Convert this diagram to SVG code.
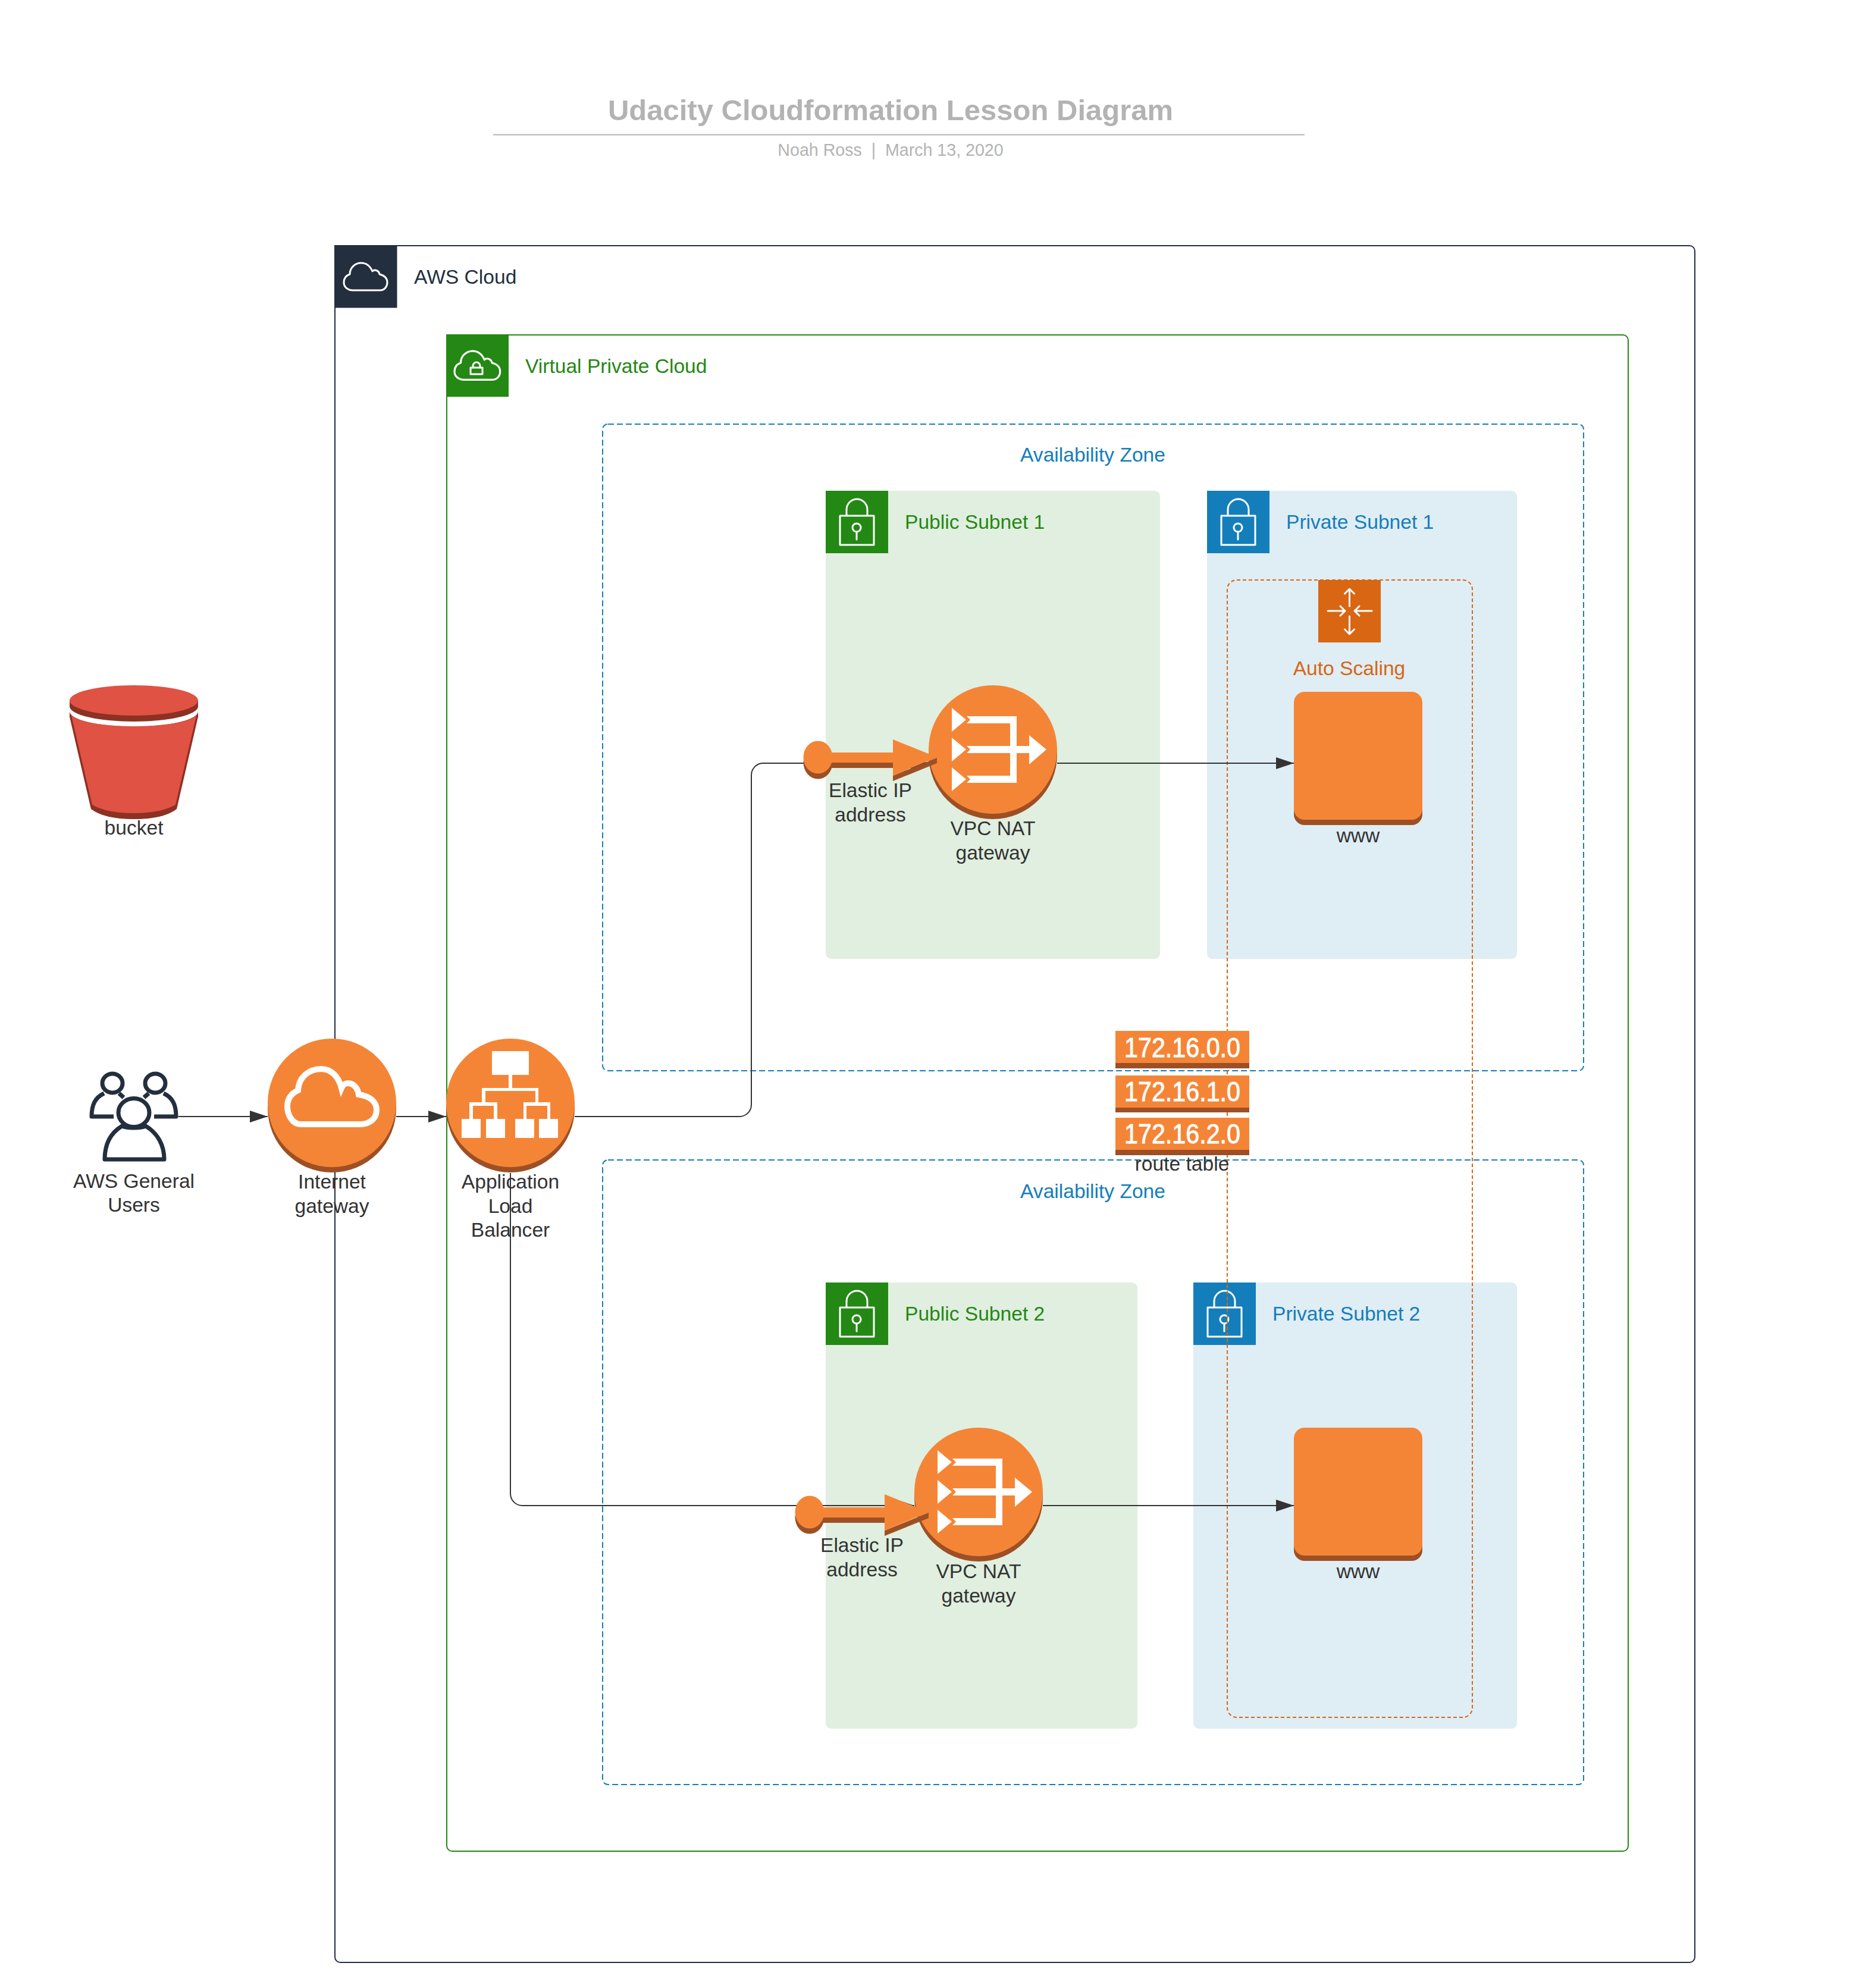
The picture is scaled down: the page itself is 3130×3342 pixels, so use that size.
<svg xmlns="http://www.w3.org/2000/svg" width="3130" height="3342" viewBox="0 0 3130 3342">
<style>
text{font-family:"Liberation Sans",Arial,sans-serif;font-size:33.600px;white-space:pre}
.l{fill:#333;text-anchor:middle}
.gl{fill:#248814}.bl{fill:#147eba}.ng{fill:#232f3e}
.wl{fill:none;stroke:#fff;stroke-width:3;stroke-linecap:round;stroke-linejoin:round}
.o{fill:#f58536}.d{fill:#9d5025}.w{fill:#fff}
.c{fill:none;stroke:#333;stroke-width:2;stroke-linejoin:round}
.rt{fill:#fff;stroke:#fff;stroke-width:1;font-size:46px;text-anchor:middle}
</style>
<defs>
<marker id="arr" markerUnits="userSpaceOnUse" markerWidth="30" markerHeight="20" refX="30" refY="10" orient="auto"><path d="M0,0L30,10L0,20Z" fill="#333"/></marker>
<g id="lock"><path class="wl" d="M24,42H81V91H24ZM35,42V32A17.5,18 0 0 1 70,32V42"/><circle class="wl" cx="52" cy="62" r="7"/><path class="wl" d="M52,69V82"/></g>
<path id="cloudp" class="wl" d="M593,488C584,488 578,482 578,475C578,468 582,463 588,461C588,450 597,442 607,442C615,442 622,447 626,456C630,452 637,455 638,461C646,463 651,468 651,475C651,482 646,488 639,488Z"/>
<g id="natg"><circle class="d" cy="9" r="108"/><circle class="o" r="108"/><path class="w" d="M-69,-70L-45,-50L-69,-30ZM-69,-20L-45,0L-69,20ZM-69,30L-45,50L-69,70Z"/><path class="w" d="M-44,-56H40V-6H61V-24L90,0L61,25V6H40V56H-44L-38,50L-44,44H29V6H-44L-38,0L-44,-6H29V-44H-44L-38,-50Z"/></g>
<g id="eipg"><ellipse class="d" cy="9" rx="24.5" ry="27.5"/><rect class="d" y="0" width="130" height="18"/><path class="d" d="M126,31L200,1V10L126,40Z"/><ellipse class="o" rx="24.5" ry="27.5"/><rect class="o" y="-8" width="130" height="17"/><path class="o" d="M126,-30L200,0L126,31Z"/></g>
<g id="wwwg"><rect class="d" y="9" width="216" height="215" rx="18"/><rect class="o" width="216" height="215" rx="18"/></g>
</defs>

<g id="title">
<text x="1497" y="202" text-anchor="middle" style="font-size:49px;font-weight:bold;fill:#b3b3b3">Udacity Cloudformation Lesson Diagram</text>
<path d="M829,226.500H2193" stroke="#b3b3b3" stroke-width="2" fill="none"/>
<text x="1497" y="262" text-anchor="middle" style="font-size:28.600px;fill:#b3b3b3">Noah Ross  |  March 13, 2020</text>
</g>

<g id="aws-cloud">
<rect x="563" y="413" width="2286" height="2886" rx="9" fill="none" stroke="#232f3e" stroke-width="2"/>
<rect x="562" y="412" width="105.500" height="105.500" fill="#232f3e"/>
<use href="#cloudp"/>
<text class="ng" x="696" y="477">AWS Cloud</text>
</g>
<g id="vpc">
<rect x="751" y="563" width="1986" height="2549" rx="9" fill="none" stroke="#248814" stroke-width="2"/>
<rect x="750" y="562" width="105" height="105" fill="#248814"/>
<use href="#cloudp" transform="translate(764,589) scale(1.05) translate(-578,-441)"/>
<rect class="wl" x="791" y="618" width="20" height="11"/>
<path class="wl" d="M795,618V615A6,6 0 0 1 807,615V618"/>
<text class="gl" x="883" y="627">Virtual Private Cloud</text>
</g>
<g id="az-1">
<rect x="1013" y="713" width="1649" height="1087" rx="9" fill="none" stroke="#147eba" stroke-width="2" stroke-dasharray="10 5"/>
<text class="bl" x="1837" y="776" text-anchor="middle">Availability Zone</text>
</g>
<g id="az-2">
<rect x="1013" y="1950" width="1649" height="1050" rx="9" fill="none" stroke="#147eba" stroke-width="2" stroke-dasharray="10 5"/>
<text class="bl" x="1837" y="2014" text-anchor="middle">Availability Zone</text>
</g>
<g id="public-subnet-1">
<rect x="1388" y="825" width="562" height="787" rx="9" fill="#e0efdf"/>
<rect x="1388" y="825" width="105" height="105" fill="#248814"/>
<use href="#lock" x="1388" y="825"/>
<text class="gl" x="1521" y="889">Public Subnet 1</text>
</g>
<g id="private-subnet-1">
<rect x="2029" y="825" width="521" height="787" rx="9" fill="#dfedf5"/>
<rect x="2029" y="825" width="105" height="105" fill="#147eba"/>
<use href="#lock" x="2029" y="825"/>
<text class="bl" x="2162" y="889">Private Subnet 1</text>
</g>
<g id="public-subnet-2">
<rect x="1388" y="2156" width="524" height="750" rx="9" fill="#e0efdf"/>
<rect x="1388" y="2156" width="105" height="105" fill="#248814"/>
<use href="#lock" x="1388" y="2156"/>
<text class="gl" x="1521" y="2220">Public Subnet 2</text>
</g>
<g id="private-subnet-2">
<rect x="2006" y="2156" width="544" height="750" rx="9" fill="#dfedf5"/>
<rect x="2006" y="2156" width="105" height="105" fill="#147eba"/>
<use href="#lock" x="2006" y="2156"/>
<text class="bl" x="2139" y="2220">Private Subnet 2</text>
</g>
<g id="auto-scaling">
<rect x="2063" y="975" width="412" height="1912" rx="16" fill="none" stroke="#d86613" stroke-width="2" stroke-dasharray="6 4"/>
<rect x="2216" y="975" width="105" height="105" fill="#d86613"/>
<path class="wl" d="M2268.500,1019V990M2260.500,998L2268.500,990L2276.500,998M2268.500,1036V1066M2260.500,1058L2268.500,1066L2276.500,1058M2232,1027H2261M2253,1019L2261,1027L2253,1035M2306,1027H2277M2285,1019L2277,1027L2285,1035"/>
<text x="2268" y="1135" text-anchor="middle" fill="#d86613">Auto Scaling</text>
</g>

<g id="connectors">
<path class="c" marker-end="url(#arr)" d="M300,1877H450"/>
<path class="c" marker-end="url(#arr)" d="M666,1877H750"/>
<path class="c" marker-end="url(#arr)" d="M966,1877H1243A20,20 0 0 0 1263,1857V1303A20,20 0 0 1 1283,1283H1561"/>
<path class="c" marker-end="url(#arr)" d="M858,1972V2511A20,20 0 0 0 878,2531H1537"/>
<path class="c" marker-end="url(#arr)" d="M1777,1283H2175"/>
<path class="c" marker-end="url(#arr)" d="M1753,2531H2175"/>
</g>

<g id="bucket">
<path d="M117,1196A108,25.500 0 0 0 333,1196V1205L297,1360Q275,1377 225,1377Q175,1377 153,1360L117,1205Z" fill="#8c3123"/>
<path d="M119,1199A106,22 0 0 0 331,1199L295,1353Q270,1367 225,1367Q180,1367 155,1353Z" fill="#e05243"/>
<ellipse cx="225" cy="1187.500" rx="108" ry="25.500" fill="#8c3123"/>
<rect x="117" y="1177" width="216" height="10.500" fill="#8c3123"/>
<ellipse cx="225" cy="1177.500" rx="108" ry="25.500" fill="#e05243"/>
<text class="l" x="225" y="1403">bucket</text>
</g>
<g id="users">
<g fill="none" stroke="#232f3e" stroke-width="7" stroke-linejoin="round">
<ellipse cx="189" cy="1821" rx="17" ry="16"/>
<ellipse cx="261" cy="1821" rx="17" ry="16"/>
<path d="M191,1877H154C154,1857 160,1845 175,1838M208,1845L200,1838"/>
<path d="M259,1877H296C296,1857 290,1845 275,1838M242,1845L250,1838"/>
<ellipse cx="225" cy="1870.500" rx="26" ry="24"/>
<path d="M176,1949H276C276,1925 265,1905 245,1893C235,1897 215,1897 205,1893C185,1905 176,1925 176,1949Z"/>
</g>
<text class="l" x="225" y="1997">AWS General</text>
<text class="l" x="225" y="2037">Users</text>
</g>
<g id="internet-gateway">
<circle class="d" cx="558" cy="1863" r="108"/>
<circle class="o" cx="558" cy="1854" r="108"/>
<path d="M506,1890C490,1890 483,1872 483,1860C483,1847 490,1838 501,1833C502,1812 518,1797 540,1797C557,1797 569,1810 574,1829C580,1815 600,1820 603,1840C622,1843 633,1852 633,1866C633,1880 622,1890 605,1890Z" fill="none" stroke="#fff" stroke-width="10"/>
<text class="l" x="558" y="1998">Internet</text>
<text class="l" x="558" y="2039">gateway</text>
</g>
<g id="application-load-balancer">
<circle class="d" cx="858" cy="1863" r="108"/>
<circle class="o" cx="858" cy="1854" r="108"/>
<path class="w" d="M827,1767H889V1807H861V1829H905V1853H925V1881H938V1913H906V1881H920V1859H885V1881H898V1913H866V1881H880V1853H900V1834H816V1853H836V1881H849V1913H817V1881H830V1859H795V1881H808V1913H776V1881H789V1853H810V1829H855V1807H827Z"/>
<text class="l" x="858" y="1998">Application</text>
<text class="l" x="858" y="2039">Load</text>
<text class="l" x="858" y="2079">Balancer</text>
</g>
<g id="nat-1">
<use href="#natg" x="1669" y="1260"/>
<text class="l" x="1669" y="1404">VPC NAT</text>
<text class="l" x="1669" y="1445">gateway</text>
</g>
<g id="eip-1">
<use href="#eipg" x="1375" y="1273"/>
<text class="l" x="1463" y="1340">Elastic IP</text>
<text class="l" x="1463" y="1381">address</text>
</g>
<g id="nat-2">
<use href="#natg" x="1645" y="2508"/>
<text class="l" x="1645" y="2653">VPC NAT</text>
<text class="l" x="1645" y="2694">gateway</text>
</g>
<g id="eip-2">
<use href="#eipg" x="1361" y="2542"/>
<text class="l" x="1449" y="2609">Elastic IP</text>
<text class="l" x="1449" y="2650">address</text>
</g>
<g id="www-1">
<use href="#wwwg" x="2175" y="1163"/>
<text class="l" x="2283" y="1416">www</text>
</g>
<g id="www-2">
<use href="#wwwg" x="2175" y="2400"/>
<text class="l" x="2283" y="2653">www</text>
</g>
<g id="route-table">
<rect class="d" x="1875" y="1733" width="225" height="63"/><rect class="o" x="1875" y="1733" width="225" height="54"/>
<rect class="d" x="1875" y="1808" width="225" height="62"/><rect class="o" x="1875" y="1808" width="225" height="54"/>
<rect class="d" x="1875" y="1879" width="225" height="63"/><rect class="o" x="1875" y="1879" width="225" height="54"/>
<text class="rt" x="1987.500" y="1777" textLength="195" lengthAdjust="spacingAndGlyphs">172.16.0.0</text>
<text class="rt" x="1987.500" y="1851" textLength="195" lengthAdjust="spacingAndGlyphs">172.16.1.0</text>
<text class="rt" x="1987.500" y="1922" textLength="195" lengthAdjust="spacingAndGlyphs">172.16.2.0</text>
<text class="l" x="1987" y="1968">route table</text>
</g>
</svg>
